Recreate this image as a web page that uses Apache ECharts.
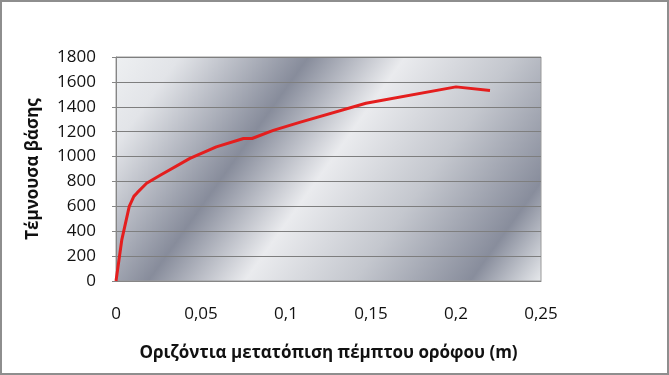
<!DOCTYPE html>
<html>
<head>
<meta charset="utf-8">
<script src="https://cdn.jsdelivr.net/npm/echarts@6/dist/echarts.min.js"></script>
<style>
html,body{margin:0;padding:0;background:#fff;}
#c{width:669px;height:375px;}
</style>
</head>
<body>
<div id="c"></div>
<script>
var xValues = [0, 0.0034, 0.0078, 0.0105, 0.0125, 0.018, 0.026, 0.0435, 0.059, 0.075, 0.08, 0.0925, 0.108, 0.147, 0.2, 0.22];
var yValues = [0, 330, 600, 680, 710, 785, 850, 985, 1078, 1145, 1145, 1210, 1275, 1428, 1560, 1530];
var xTitle = 'Οριζόντια μετατόπιση πέμπτου ορόφου (m)';
var yTitle = 'Τέμνουσα βάσης';

var seriesData = xValues.map(function (x, i) { return [x, yValues[i]]; });
var chart = echarts.init(document.getElementById('c'), null, {renderer: 'canvas'});
var font = '"Open Sans", "Noto Sans", sans-serif';
var bg = new echarts.graphic.LinearGradient(0, 0, 1, 1.355, [
  {offset: 0, color: '#eef0f2'},
  {offset: 0.1, color: '#e2e4e8'},
  {offset: 0.3, color: '#878c9b'},
  {offset: 0.45, color: '#eaebee'},
  {offset: 0.62, color: '#c4c7ce'},
  {offset: 0.8, color: '#888d9c'},
  {offset: 0.92, color: '#eff1f3'},
  {offset: 1, color: '#d8dadf'}
]);
chart.setOption({
  animation: false,
  backgroundColor: '#fff',
  graphic: [{
    type: 'rect', shape: {x: 1, y: 1, width: 667, height: 373},
    style: {fill: 'none', stroke: '#8e8e8e', lineWidth: 2}, silent: true
  }],
  grid: {
    left: 116, right: 128, top: 57, bottom: 94,
    show: true, backgroundColor: bg, borderColor: '#9a9a9a', borderWidth: 1
  },
  xAxis: {
    type: 'value', min: 0, max: 0.25, interval: 0.05,
    name: xTitle, nameLocation: 'middle', nameGap: 64,
    nameTextStyle: {fontFamily: font, fontSize: 17, fontWeight: 'bold', color: '#111'},
    axisLine: {show: true, lineStyle: {color: '#868686'}},
    axisTick: {show: false},
    splitLine: {show: false},
    axisLabel: {
      fontFamily: font, fontSize: 17, color: '#111', margin: 25,
      formatter: function (v) { return String(+v.toFixed(2)).replace('.', ','); }
    }
  },
  yAxis: {
    type: 'value', min: 0, max: 1800, interval: 200,
    name: yTitle, nameLocation: 'middle', nameGap: 74, nameRotate: 90,
    nameTextStyle: {fontFamily: font, fontSize: 17, fontWeight: 'bold', color: '#111'},
    axisLine: {show: true, lineStyle: {color: '#868686'}},
    axisTick: {show: true, length: 4, lineStyle: {color: '#868686'}},
    splitLine: {show: true, lineStyle: {color: '#7e7e7e', width: 1}},
    axisLabel: {
      fontFamily: font, fontSize: 17, color: '#111', margin: 20,
      formatter: function (v) { return String(v); }
    }
  },
  series: [{
    type: 'line', data: seriesData, showSymbol: false, smooth: false,
    lineStyle: {color: '#e41e1e', width: 3}, itemStyle: {color: '#e41e1e'}
  }]
});
</script>
</body>
</html>
